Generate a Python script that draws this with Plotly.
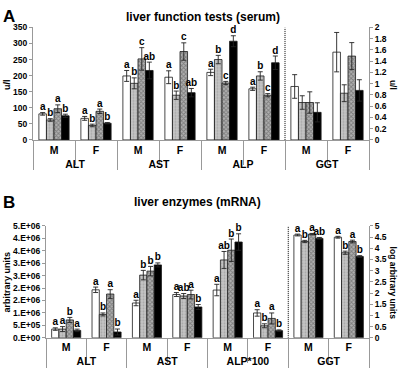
import plotly.graph_objects as go

# ---------------- data ----------------
groups = ["ALT", "ALT", "AST", "AST", "ALP", "ALP"]
sexes = ["M", "F", "M", "F", "M", "F"]
groups_B = ["ALT", "ALT", "AST", "AST", "ALP*100", "ALP*100"]
ggt_groups = ["GGT", "GGT"]
ggt_sexes = ["M", "F"]

# Panel A : serum liver function tests (u/l); GGT on right axis
A_vals = [
    [81, 67, 199, 195, 210, 159],
    [62, 45, 176, 139, 250, 199],
    [97, 89, 252, 275, 177, 139],
    [75, 52, 216, 147, 307, 240],
]
A_err = [
    [4, 6, 17, 20, 10, 5],
    [4, 4, 17, 13, 13, 13],
    [12, 7, 35, 27, 5, 5],
    [5, 2, 26, 13, 17, 21],
]
A_letters = [
    ["a", "a", "a", "a", "a", "a"],
    ["b", "b", "b", "b", "b", "b"],
    ["a", "a", "c", "c", "c", "c"],
    ["b", "b", "ab", "ab", "d", "d"],
]
A_ggt = [[0.95, 1.56], [0.665, 0.83], [0.665, 1.49], [0.49, 0.88]]
A_ggt_err = [[0.21, 0.35], [0.12, 0.15], [0.19, 0.24], [0.17, 0.19]]

# Panel B : liver enzymes mRNA (arbitrary units); GGT on right (log) axis
B_vals = [
    [352e3, 1.93e6, 1.40e6, 1.74e6, 1.92e6, 1.00e6],
    [352e3, 0.94e6, 2.52e6, 1.68e6, 3.13e6, 485e3],
    [720e3, 1.76e6, 2.68e6, 1.74e6, 3.52e6, 780e3],
    [300e3, 235e3, 2.93e6, 1.24e6, 3.85e6, 290e3],
]
B_err = [
    [50e3, 110e3, 110e3, 80e3, 230e3, 130e3],
    [100e3, 60e3, 190e3, 100e3, 340e3, 80e3],
    [100e3, 175e3, 190e3, 175e3, 450e3, 220e3],
    [50e3, 120e3, 80e3, 100e3, 330e3, 30e3],
]
B_letters = [
    ["a", "a", "a", "a", "a", "a"],
    ["a", "b", "b", "ab", "ab", "b"],
    ["b", "a", "b", "a", "b", "a"],
    ["a", "b", "b", "b", "b", "b"],
]
B_ggt = [[4.59, 4.49], [4.30, 3.80], [4.63, 4.30], [4.44, 3.63]]
B_ggt_err = [[0.04, 0.04], [0.05, 0.07], [0.03, 0.06], [0.04, 0.04]]
B_ggt_letters = [["a", "a"], ["b", "b"], ["a", "a"], ["ab", "b"]]

A_ticks = [0, 50, 100, 150, 200, 250, 300, 350]
A2_ticks = [0, 0.2, 0.4, 0.6, 0.8, 1, 1.2, 1.4, 1.6, 1.8, 2]
B_tickvals = [0, 5e5, 1e6, 1.5e6, 2e6, 2.5e6, 3e6, 3.5e6, 4e6, 4.5e6]
B_ticktext = ["0.E+00", "5.E+05", "1.E+06", "2.E+06", "2.E+06",
              "3.E+06", "3.E+06", "4.E+06", "4.E+06", "5.E+06"]
B2_ticks = [0, 0.5, 1, 1.5, 2, 2.5, 3, 3.5, 4, 4.5, 5]

# ---------------- styles ----------------
FONT = "Liberation Sans, Arial, sans-serif"
fills = [
    dict(color="white"),
    dict(color="#bdbdbd", pattern=dict(shape=".", fgcolor="#8a8a8a", bgcolor="#c4c4c4", size=3, solidity=0.3)),
    dict(color="#8a8a8a", pattern=dict(shape="x", fgcolor="#4a4a4a", bgcolor="#b0b0b0", size=3, solidity=0.5)),
    dict(color="black"),
]
W, H = 400, 386


def py(px):
    return 1 - px / H


fig = go.Figure()


def add_bars(x_outer, x_inner, vals, errs, xa, ya):
    for i in range(4):
        fig.add_trace(go.Bar(
            x=[x_outer, x_inner], y=vals[i], xaxis=xa, yaxis=ya,
            offsetgroup=str(i), showlegend=False,
            marker=dict(**fills[i], line=dict(color="#1a1a1a", width=0.8)),
            error_y=dict(type="data", array=errs[i], color="#222", thickness=0.9, width=2.5),
        ))


def add_letters(x_outer, x_inner, vals, errs, letters, xa, ya):
    for i in range(4):
        fig.add_trace(go.Scatter(
            x=[x_outer, x_inner],
            y=[v + e for v, e in zip(vals[i], errs[i])],
            text=letters[i], mode="text", textposition="top center",
            textfont=dict(family=FONT, size=10, color="black", weight="bold"),
            xaxis=xa, yaxis=ya, offsetgroup=str(i), showlegend=False,
            cliponaxis=False, hoverinfo="skip",
        ))


add_bars(groups, sexes, A_vals, A_err, "x", "y")
add_bars(ggt_groups, ggt_sexes, A_ggt, A_ggt_err, "x", "y2")
add_letters(groups, sexes, A_vals, A_err, A_letters, "x", "y")

add_bars(groups_B, sexes, B_vals, B_err, "x2", "y3")
add_bars(ggt_groups, ggt_sexes, B_ggt, B_ggt_err, "x2", "y4")
add_letters(groups_B, sexes, B_vals, B_err, B_letters, "x2", "y3")
add_letters(ggt_groups, ggt_sexes, B_ggt, B_ggt_err, B_ggt_letters, "x2", "y4")

tickfont_y = dict(family=FONT, size=8.5, color="black", weight="bold")
tickfont_x = dict(family=FONT, size=10.5, color="black", weight="bold")

xcommon = dict(type="multicategory", showline=True, linecolor="#999", linewidth=1,
               ticks="outside", tickson="boundaries", ticklen=24, tickcolor="#999",
               showdividers=True, dividercolor="#999", dividerwidth=1,
               tickfont=tickfont_x, showgrid=False, zeroline=False, fixedrange=True)
ycommon = dict(showline=True, linecolor="#999", linewidth=1, ticks="outside", ticklen=3,
               tickcolor="#999", tickfont=tickfont_y, showgrid=False, zeroline=False)

fig.update_layout(
    width=W, height=H, margin=dict(l=0, r=0, t=0, b=0),
    paper_bgcolor="white", plot_bgcolor="white",
    barmode="group", bargap=0.28, bargroupgap=0,
    scattermode="group", scattergap=0.28,
    xaxis=dict(domain=[33 / W, 369 / W], anchor="y", **xcommon),
    yaxis=dict(domain=[py(138.5), py(23)], range=[0, 350], tickvals=A_ticks, **ycommon),
    yaxis2=dict(overlaying="y", side="right", anchor="x", range=[0, 2], tickvals=A2_ticks, **ycommon),
    xaxis2=dict(domain=[46 / W, 369 / W], anchor="y3", **xcommon),
    yaxis3=dict(domain=[py(341.7), py(226.7)], range=[0, 4.5e6], tickvals=B_tickvals,
                ticktext=B_ticktext, anchor="x2", **ycommon),
    yaxis4=dict(overlaying="y3", side="right", anchor="x2", range=[0, 5], tickvals=B2_ticks, **ycommon),
    font=dict(family=FONT, color="black"),
)

# dotted separators between ALP and GGT
fig.add_shape(type="line", xref="x", yref="y", x0=5.5, x1=5.5, y0=0, y1=350,
              line=dict(color="black", width=1, dash="1px,1px"))
fig.add_shape(type="line", xref="x2", yref="y3", x0=5.5, x1=5.5, y0=0, y1=4.5e6,
              line=dict(color="black", width=1, dash="1px,1px"))

bold = dict(family=FONT, color="black", weight="bold")
ann = [
    dict(text="A", x=2 / W, y=py(12), xanchor="left", font=dict(size=17, **bold)),
    dict(text="B", x=2 / W, y=py(203), xanchor="left", font=dict(size=17, **bold)),
    dict(text="liver function tests (serum)", x=203 / W, y=py(12), xanchor="center", font=dict(size=12, **bold)),
    dict(text="liver enzymes (mRNA)", x=197 / W, y=py(202), xanchor="center", font=dict(size=12, **bold)),
    dict(text="u/l", x=7 / W, y=py(82), xanchor="center", textangle=-90, font=dict(size=9, **bold)),
    dict(text="u/l", x=393 / W, y=py(82), xanchor="center", textangle=90, font=dict(size=8.5, **bold)),
    dict(text="arbitrary units", x=7 / W, y=py(285), xanchor="center", textangle=-90, font=dict(size=9, **bold)),
    dict(text="log arbitrary units", x=393 / W, y=py(285), xanchor="center", textangle=90, font=dict(size=8.5, **bold)),
]
for a in ann:
    fig.add_annotation(xref="paper", yref="paper", showarrow=False, yanchor="middle",
                       borderpad=0, **a)

fig.write_html("out.html", config={"displayModeBar": False},
               post_script="document.body.style.margin='0';document.body.style.padding='0';")
